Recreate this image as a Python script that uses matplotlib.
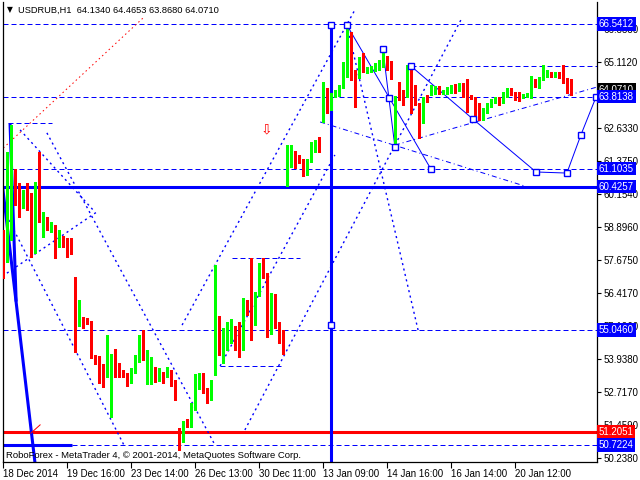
import matplotlib
matplotlib.use("Agg")
import matplotlib.pyplot as plt
import matplotlib.transforms as mtransforms
import numpy as np

# ---- candle data (USDRUB H1) ----
opens = [58.54,57.75,58.69,60.94,59.93,59.81,60.00,59.66,58.16,60.87,
         59.10,59.25,58.91,58.95,58.39,58.54,58.31,58.05,56.85,55.23,
         55.46,55.38,55.34,54.07,53.88,53.69,53.32,53.28,53.88,53.47,
         53.50,53.35,53.09,53.54,53.84,54.86,53.01,53.05,53.43,53.35,
         53.43,53.32,53.50,53.13,50.99,50.91,51.63,51.40,52.11,52.90,
         53.39,52.75,52.53,53.43,55.49,54.44,54.97,55.01,55.04,54.93,
         54.82,55.95,57.75,55.38,56.36,57.52,57.07,54.93,56.32,55.19,
         54.89,60.94,61.51,61.73,61.58,61.43,60.87,61.39,61.77,62.07,
         63.27,63.98,63.50,63.87,63.87,64.17,64.81,65.26,64.51,64.70,
         65.07,64.74,64.85,64.89,64.92,65.00,65.30,65.11,62.93,64.25,
         64.02,63.87,65.00,64.17,63.46,62.86,63.83,63.95,63.95,64.21,
         63.95,63.95,63.98,64.21,64.06,64.32,63.91,63.80,63.76,63.50,
         63.12,63.23,63.46,63.61,63.72,63.61,63.83,64.06,63.95,63.95,
         63.80,63.80,63.80,64.32,64.17,64.44,64.59,64.70,64.59,64.66,
         64.62,64.47,64.134]
closes = [57.75,58.69,60.87,59.85,59.81,60.00,59.59,58.16,60.30,59.18,
          59.21,58.88,59.06,58.43,58.54,58.24,58.05,57.94,55.23,55.46,
          55.31,55.31,54.03,53.80,53.65,53.32,54.82,53.88,53.47,53.43,
          53.32,53.09,53.62,53.92,54.82,53.92,53.13,53.32,53.32,53.39,
          53.32,53.47,52.98,52.75,50.87,51.63,51.44,52.11,52.94,53.39,
          52.71,52.53,52.87,55.53,54.48,54.48,55.04,55.04,54.93,54.82,
          55.95,55.91,55.38,56.43,57.52,57.04,55.16,56.32,55.16,54.86,
          54.48,61.66,61.73,61.54,61.36,60.87,61.43,61.84,62.11,61.77,
          63.98,63.50,63.87,63.95,64.21,64.89,65.22,64.51,64.44,64.96,
          64.77,64.85,64.92,64.92,65.00,65.37,65.07,64.81,63.76,63.95,
          63.80,64.92,63.80,63.69,62.82,63.76,63.65,64.13,64.17,63.95,
          63.98,64.02,64.21,64.17,64.32,63.87,63.80,63.76,63.50,63.20,
          63.35,63.50,63.69,63.76,63.61,63.87,64.10,63.95,63.83,63.80,
          63.87,63.87,64.32,64.25,64.47,64.66,64.74,64.62,64.70,64.55,
          64.44,64.13,64.071]
highs = [58.80,61.73,62.74,61.09,60.57,60.30,60.57,60.19,60.60,61.73,
         59.48,59.29,59.10,58.99,58.80,58.58,58.50,58.50,57.04,56.17,
         55.53,55.50,55.38,54.11,54.07,53.77,54.86,54.14,54.33,53.80,
         53.54,53.43,53.62,54.11,54.86,55.04,54.29,54.03,53.65,53.62,
         53.47,53.65,53.54,53.17,51.36,51.63,51.70,52.30,53.39,53.43,
         53.43,52.87,53.17,57.49,55.57,55.12,55.34,55.46,55.19,55.34,
         56.25,56.17,57.75,56.47,57.56,57.75,57.18,56.43,56.40,55.34,
         55.04,61.99,61.99,61.77,61.62,61.47,61.47,62.11,62.18,62.29,
         64.36,64.13,63.95,64.06,64.25,65.11,66.46,66.24,64.81,65.30,
         65.45,64.92,64.96,65.07,65.19,65.56,65.34,65.15,63.83,64.36,
         64.06,65.00,65.07,64.25,63.57,63.80,63.87,64.25,64.21,64.21,
         64.06,64.17,64.25,64.28,64.32,64.32,64.47,63.87,63.80,63.57,
         63.39,63.57,63.72,63.80,63.80,63.98,64.13,64.13,63.98,63.98,
         63.91,63.95,64.59,64.47,64.55,65.00,64.81,64.74,64.74,64.74,
         65.00,64.51,64.4653]
lows = [57.00,57.60,58.43,59.74,59.29,59.63,59.55,57.79,57.94,59.10,
        58.54,58.80,58.73,57.75,58.16,58.16,57.79,57.90,54.22,55.19,
        55.12,55.27,53.99,53.77,53.05,52.90,53.28,51.78,53.28,53.28,
        53.28,52.94,53.05,53.43,53.84,53.92,53.01,53.01,53.09,53.13,
        53.05,53.28,52.94,52.42,50.54,50.84,51.40,51.40,52.04,52.83,
        52.68,52.30,52.42,53.35,54.11,53.80,54.29,54.56,54.29,54.03,
        54.29,55.61,54.67,55.23,56.32,57.00,54.78,54.89,55.12,54.56,
        54.14,60.45,61.17,61.13,61.32,60.83,60.87,61.36,61.73,61.73,
        62.86,63.20,63.31,63.80,63.83,64.13,64.55,64.44,63.42,64.51,
        64.74,64.70,64.74,64.77,64.81,64.92,64.81,64.47,61.92,63.69,
        63.50,63.80,63.20,63.50,62.26,62.82,63.61,63.87,63.91,63.91,
        63.91,63.91,63.95,63.95,64.02,63.80,63.23,63.72,63.12,62.93,
        62.93,63.20,63.42,63.57,63.50,63.57,63.80,63.87,63.69,63.65,
        63.76,63.80,63.76,64.17,64.13,64.44,64.55,64.55,64.55,64.51,
        64.32,63.95,63.868]

# ---- axis labels ----
price_ticks = [66.3330,65.1120,63.8540,62.6330,61.3750,60.1540,58.8960,
               57.6750,56.4170,55.1960,53.9380,52.7170,51.4590,50.2380]
hidden_ticks = [63.8540]   # covered by the price boxes
date_pos = [0,16,32,48,64,80,96,112,128]
date_labels = ["18 Dec 2014","19 Dec 16:00","23 Dec 14:00","26 Dec 13:00",
               "30 Dec 11:00","13 Jan 09:00","14 Jan 16:00","16 Jan 14:00",
               "20 Jan 12:00"]

# ---- analyst drawings (bar index, price) ----
levels_blue = [66.5412,63.8138,61.1035,55.0460]
level_thick = 60.4257
level_red = 51.2051
level_low = 50.7224
short_dashes = [((1.2,62.82),(12.2,62.82)),((57.2,57.75),(74.2,57.75)),
                ((54.2,53.69),(69.9,53.69)),((101.9,64.96),(148.4,64.96))]
dotted = [((1.35,59.18),(30.4,50.65)),((10.9,62.45),(52.9,50.73)),
          ((4.2,62.56),(22.9,59.48)),((0.9,57.18),(23.4,59.48)),
          ((44.7,55.23),(87.9,67.07)),((60.4,51.29),(114.4,66.69)),
          ((54.2,53.69),(82.9,61.62)),((85.9,66.50),(103.7,55.04))]
dashdot = [((79.2,62.86),(130.4,60.45)),((97.9,61.99),(148.4,64.17))]
path_a = [(85.9,66.50),(106.9,61.09)]
path_b = [(94.9,65.60),(96.4,63.76),(97.9,61.92)]
path_c = [(101.9,64.96),(117.4,62.97),(133.2,60.98),(140.9,60.94),
          (144.4,62.37),(148.2,63.80)]
markers = [(81.9,66.50),(81.9,55.23),(85.9,66.50),(94.9,65.60),(96.4,63.76),
           (97.9,61.92),(101.9,64.96),(106.9,61.09),(117.4,62.97),
           (133.2,60.98),(140.9,60.94),(144.4,62.37),(148.2,63.80)]
thick_e = [(-0.08,60.30),(7.9,50.08)]
thick_f = [(1.7,62.74),(3.2,56.17)]
red_dotted = [(0.0,61.88),(34.9,66.76)]
right_boxes = [(66.5412,"#0000ff"),(64.0710,"#000000"),(63.8138,"#0000ff"),
               (61.1035,"#0000ff"),(60.4257,"#0000ff"),(55.0460,"#0000ff"),
               (51.2051,"#ff0000"),(50.7224,"#0000ff")]

BLUE = "#0000ff"
fig = plt.figure(figsize=(6.4,4.8), dpi=100)
ax = fig.add_axes([2.5/640, 18/480, 594.5/640, 460/480])
ax.set_xlim(-0.2, 148.43)
ax.set_ylim(50.0855, 67.366)

px = 0.72
# levels
for lv in levels_blue:
    ax.axhline(lv, color=BLUE, lw=px, dashes=(5,3))
ax.axhline(level_thick, color=BLUE, lw=2.2)
ax.axhline(level_red, color="#ff0000", lw=2.2)
ax.plot([17.2,148.43],[level_low,level_low], color=BLUE, lw=px, dashes=(5,3))
ax.plot([-0.2,17.2],[level_low,level_low], color=BLUE, lw=2.2, solid_capstyle="butt")
for a,b in short_dashes:
    ax.plot([a[0],b[0]],[a[1],b[1]], color=BLUE, lw=px, dashes=(5,3))
for a,b in dotted:
    ax.plot([a[0],b[0]],[a[1],b[1]], color=BLUE, lw=1.0, dashes=(1.5,2.5))
for a,b in dashdot:
    ax.plot([a[0],b[0]],[a[1],b[1]], color=BLUE, lw=px, dashes=(5,3,1,3))
for pth in (path_a,path_b,path_c):
    ax.plot([p[0] for p in pth],[p[1] for p in pth], color=BLUE, lw=px)
ax.plot([81.9,81.9],[66.50,50.0855], color=BLUE, lw=2.2)
for pth in (thick_e, thick_f):
    ax.plot([p[0] for p in pth],[p[1] for p in pth], color=BLUE, lw=2.2)
ax.plot([p[0] for p in red_dotted],[p[1] for p in red_dotted], color="#ff0000",
        lw=px, dashes=(1.5,3))
ax.plot([6.9,9.2],[51.17,51.48], color="#ff0000", lw=px)
ax.text(65.7, 62.56, "\u21e9", color="#ff0000", fontsize=10, ha="center", va="center")

# candles
x = np.arange(len(opens))
o = np.array(opens); c = np.array(closes)
cols = np.where(c >= o, "#00ff00", "#ff0000")
ax.vlines(x, lows, highs, colors=cols, lw=0.9, zorder=3, antialiased=False)
h = np.maximum(np.abs(c-o), 0.04)
ax.bar(x, h, bottom=np.minimum(o,c), width=0.75, color=cols, lw=0, zorder=4,
       antialiased=False)

ax.plot([m[0] for m in markers],[m[1] for m in markers], ls="none", marker="s",
        ms=4.5, mfc="white", mec=BLUE, mew=1.0, zorder=5)

# axes styling
ax.spines["top"].set_visible(False)
for s in ("left","right","bottom"):
    ax.spines[s].set_linewidth(0.9)
ax.yaxis.tick_right()
ax.set_yticks(price_ticks)
ax.set_yticklabels(["" if t in hidden_ticks else "%.4f" % t for t in price_ticks])
ax.tick_params(axis="y", direction="out", length=3, width=0.8, pad=2,
               labelsize=7, labelfontfamily="Liberation Sans")
ax.set_xticks(date_pos)
ax.set_xticklabels(date_labels)
ax.tick_params(axis="x", direction="out", length=4, width=0.8, pad=1,
               labelsize=7, labelfontfamily="Liberation Sans")
for lbl in ax.get_xticklabels():
    lbl.set_ha("left")

trans = mtransforms.blended_transform_factory(ax.transAxes, ax.transData)
for val, col in right_boxes:
    ax.text(1.003, val, "%.4f" % val, transform=trans, color="white",
            fontsize=7, family="Liberation Sans", ha="left", va="center",
            bbox=dict(boxstyle="square,pad=0.18", fc=col, ec="none"),
            clip_on=False, zorder=10)

fig.text(7/640, 1-10/480, "\u25bc", fontsize=5.5, va="center", ha="left")
fig.text(18/640, 1-10/480, "USDRUB,H1  64.1340 64.4653 63.8680 64.0710",
         fontsize=6.7, family="Liberation Sans", va="center", ha="left")
fig.text(6/640, 1-455/480,
         "RoboForex - MetaTrader 4, \u00a9 2001-2014, MetaQuotes Software Corp.",
         fontsize=6.8, family="Liberation Sans", va="center", ha="left")

fig.savefig("out.png", dpi=100)
